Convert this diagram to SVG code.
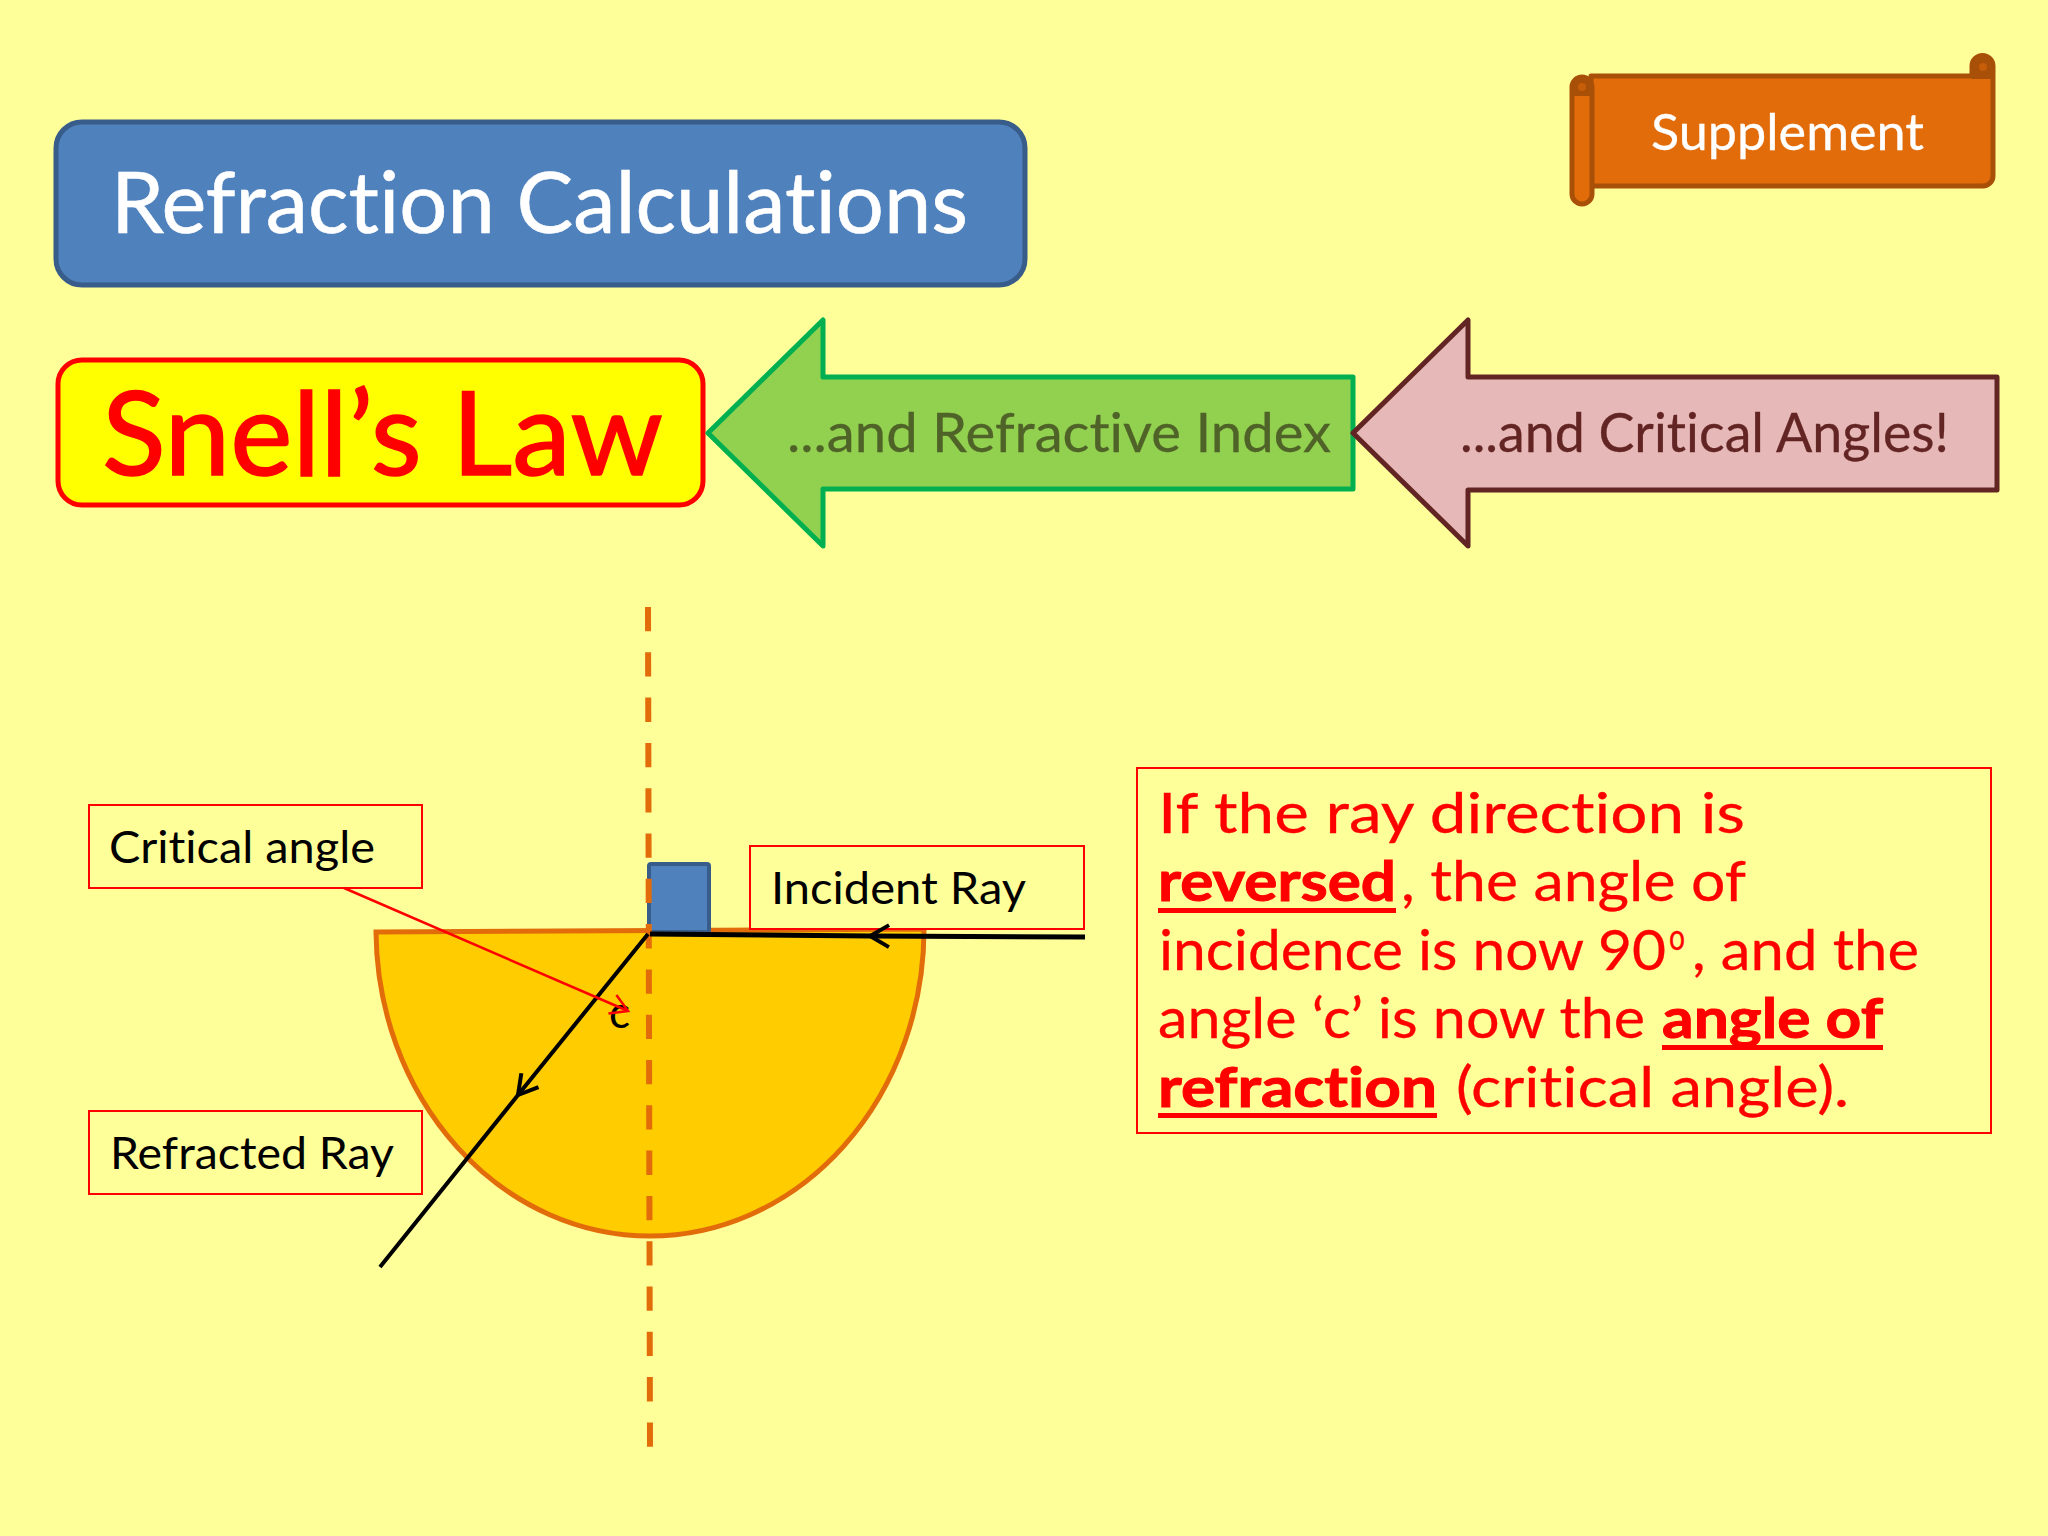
<svg xmlns="http://www.w3.org/2000/svg" width="2048" height="1536" viewBox="0 0 2048 1536">
<style>
text{font-variant-ligatures:none}
.c{font-family:Lato,"Noto Sans",sans-serif}
.k{font-family:Lato,"Liberation Sans",sans-serif;font-size:45px;fill:#000}
.lb{fill:#FFFF99;stroke:#FF0000;stroke-width:2}
.n{font-size:56px;fill:#FF0000;stroke:#FF0000;stroke-width:.3}
.b{font-weight:700;stroke-width:1}
.u{fill:#FF0000}
.ray{fill:none;stroke:#000;stroke-width:4}
</style>
<defs>
<marker id="a" markerUnits="userSpaceOnUse" markerWidth="40" markerHeight="40" refX="37" refY="20" orient="auto"><path d="M18 9 L37 20 L18 31" fill="none" stroke="#000" stroke-width="4"/></marker>
<marker id="r" markerUnits="userSpaceOnUse" markerWidth="40" markerHeight="40" refX="22" refY="20" orient="auto"><path d="M5 10 L22 20 L5 30" fill="none" stroke="#FF0000" stroke-width="2.5"/></marker>
</defs>
<rect width="2048" height="1536" fill="#FFFF99"/>
<g id="title">
<rect x="56" y="122" width="969" height="163" rx="26" fill="#4F81BD" stroke="#385D8A" stroke-width="5"/>
<text class="c" x="111" y="233" font-size="85" fill="#fff" stroke="#fff" stroke-width=".6" textLength="857" lengthAdjust="spacingAndGlyphs">Refraction Calculations</text>
</g>
<g id="supplement">
<path d="M1591 76 H1972 V66 A10.5 10.5 0 0 1 1993 66 V176 A10 10 0 0 1 1983 186 H1591 Z" fill="#E36C0A" stroke="#A84F08" stroke-width="5" stroke-linejoin="round"/>
<path d="M1972 76 V66 A10.5 10.5 0 0 1 1993 66 V79 H1972 Z" fill="#A84F08"/>
<rect x="1572" y="77" width="20" height="127" rx="10" fill="#E36C0A" stroke="#A84F08" stroke-width="5"/>
<path d="M1572 96 V87 A10 10 0 0 1 1592 87 V96 Z" fill="#A84F08"/>
<circle cx="1582" cy="87" r="4" fill="#E36C0A" opacity=".5"/>
<circle cx="1983" cy="67" r="4" fill="#E36C0A" opacity=".5"/>
<text class="c" x="1651" y="150" font-size="50" fill="#fff" stroke="#fff" stroke-width=".3" textLength="273" lengthAdjust="spacingAndGlyphs">Supplement</text>
</g>
<g id="snell">
<rect x="58" y="360" width="645" height="145" rx="24" fill="#FFFF00" stroke="#FF0000" stroke-width="5"/>
<text class="c" x="102" y="475" font-size="116" fill="#FF0000" stroke="#FF0000" stroke-width="1.5" textLength="561" lengthAdjust="spacingAndGlyphs">Snell’s Law</text>
</g>
<g id="arrow-refractive-index">
<path d="M708 433 L823 320 V377 H1353 V489 H823 V546 Z" fill="#92D050" stroke="#00B050" stroke-width="5" stroke-linejoin="round"/>
<text class="c" x="787" y="452" font-size="54" fill="#4F6228" stroke="#4F6228" stroke-width=".3" textLength="544" lengthAdjust="spacingAndGlyphs">...and Refractive Index</text>
</g>
<g id="arrow-critical-angles">
<path d="M1353 433 L1468 320 V377 H1997 V490 H1468 V546 Z" fill="#E6B9B8" stroke="#632523" stroke-width="5" stroke-linejoin="round"/>
<text class="c" x="1460" y="452" font-size="54" fill="#632523" stroke="#632523" stroke-width=".3" textLength="489" lengthAdjust="spacingAndGlyphs">...and Critical Angles!</text>
</g>
<g id="block">
<path d="M376 932 L924 929 A274 307 0 0 1 650 1236 A274 307 0 0 1 376 932 Z" fill="#FFCC00" stroke="#E36C0A" stroke-width="5"/>
</g>
<g id="right-angle">
<rect x="649" y="864" width="60" height="68" rx="2" fill="#4F81BD" stroke="#385D8A" stroke-width="4"/>
</g>
<g id="label-critical">
<rect class="lb" x="89" y="805" width="333" height="83"/>
<text class="k" x="109" y="863" textLength="266" lengthAdjust="spacingAndGlyphs">Critical angle</text>
</g>
<g id="label-incident">
<rect class="lb" x="750" y="846" width="334" height="83"/>
<text class="k" x="771" y="904" textLength="255" lengthAdjust="spacingAndGlyphs">Incident Ray</text>
</g>
<g id="label-refracted">
<rect class="lb" x="89" y="1111" width="333" height="83"/>
<text class="k" x="110" y="1169" textLength="284" lengthAdjust="spacingAndGlyphs">Refracted Ray</text>
</g>
<g id="label-c"><text class="k" x="609" y="1028" style="font-size:44px">c</text></g>
<g id="connectors">
<line x1="648" y1="607" x2="650" y2="1448" stroke="#E36C0A" stroke-width="6" stroke-dasharray="24.3 21"/>
<polyline class="ray" points="1085,937 870,936 650,934" marker-mid="url(#a)" style="stroke-width:5"/>
<polyline class="ray" points="648,934 518,1095 380,1267" marker-mid="url(#a)"/>
<line x1="344" y1="888" x2="628" y2="1011" stroke="#FF0000" stroke-width="2.5" marker-end="url(#r)"/>
</g>
<g id="note">
<rect class="lb" x="1137" y="768" width="854" height="365"/>
<text class="c n" x="1158" y="833" textLength="587" lengthAdjust="spacingAndGlyphs">If the ray direction is</text>
<text class="c n b" x="1158" y="901" textLength="238" lengthAdjust="spacingAndGlyphs">reversed</text>
<text class="c n" x="1401" y="901" textLength="345" lengthAdjust="spacingAndGlyphs">, the angle of</text>
<text class="c n" x="1159" y="970" textLength="507" lengthAdjust="spacingAndGlyphs">incidence is now 90</text>
<text class="c n" x="1669" y="950" style="font-size:36px" textLength="16" lengthAdjust="spacingAndGlyphs">o</text>
<text class="c n" x="1692" y="970" textLength="227" lengthAdjust="spacingAndGlyphs">, and the</text>
<text class="c n" x="1158" y="1038" textLength="487" lengthAdjust="spacingAndGlyphs">angle ‘c’ is now the</text>
<text class="c n b" x="1662" y="1038" textLength="221" lengthAdjust="spacingAndGlyphs">angle of</text>
<text class="c n b" x="1158" y="1107" textLength="279" lengthAdjust="spacingAndGlyphs">refraction</text>
<text class="c n" x="1456" y="1107" textLength="393" lengthAdjust="spacingAndGlyphs">(critical angle).</text>
<rect class="u" x="1158" y="908" width="238" height="5"/>
<rect class="u" x="1662" y="1045" width="221" height="5"/>
<rect class="u" x="1158" y="1113" width="279" height="5"/>
</g>
</svg>
